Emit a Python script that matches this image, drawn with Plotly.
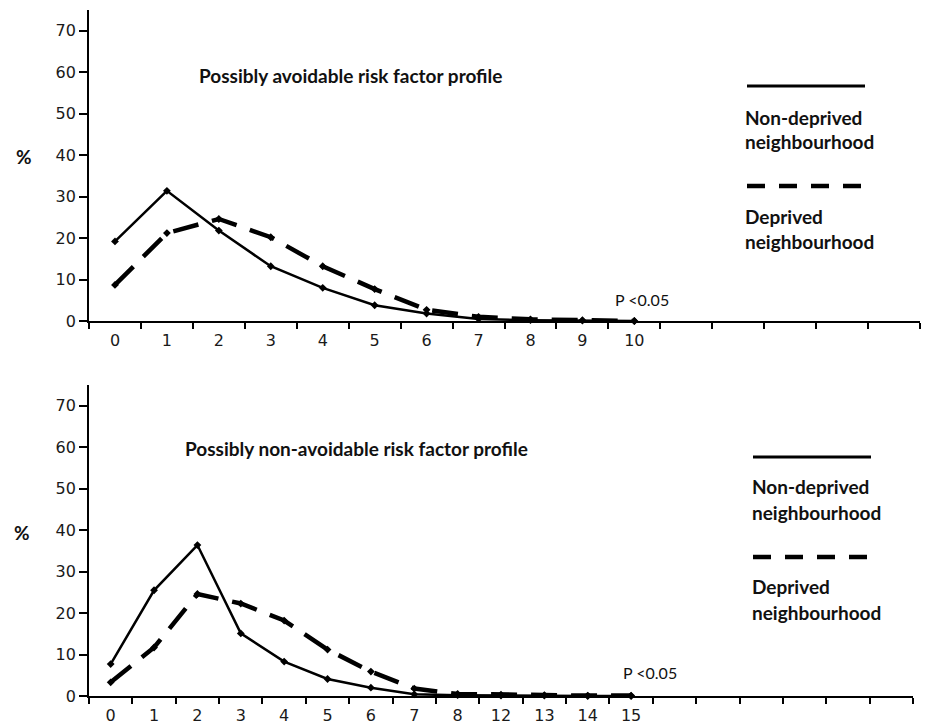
import plotly.graph_objects as go

# ---------------- data ----------------
top_categories = ["0", "1", "2", "3", "4", "5", "6", "7", "8", "9", "10"]
top_non_deprived = [19.2, 31.4, 21.8, 13.2, 8.0, 3.8, 1.8, 0.5, 0.2, 0.1, 0.0]
top_deprived = [8.7, 21.2, 24.6, 20.2, 13.2, 7.7, 2.7, 1.0, 0.4, 0.2, 0.0]
top_slots = 16

bot_categories = ["0", "1", "2", "3", "4", "5", "6", "7", "8", "12", "13", "14", "15"]
bot_non_deprived = [7.7, 25.5, 36.4, 15.1, 8.3, 4.1, 2.0, 0.4, 0.2, 0.1, 0.1, 0.0, 0.0]
bot_deprived = [3.3, 11.7, 24.6, 22.3, 18.2, 11.2, 5.9, 1.8, 0.5, 0.3, 0.2, 0.1, 0.1]
bot_slots = 19

y_ticks = [0, 10, 20, 30, 40, 50, 60, 70]

# the page shows the figure inside the default 8px body margin
OFF = 8
W, H = 935 - 2 * OFF, 724 - OFF


def px(x):
    return (x - OFF) / W


def py(y):
    return 1 - (y - OFF) / H


TICK_FONT = dict(family="DejaVu Sans", size=16, color="#1a1a1a")
BOLD = dict(family="Lato", size=19, color="#111111", weight="bold")

fig = go.Figure()

panels = [
    ("x", "y", top_categories, top_non_deprived, top_deprived),
    ("x2", "y2", bot_categories, bot_non_deprived, bot_deprived),
]
for xa, ya, cats, nd, dp in panels:
    idx = list(range(len(cats)))
    fig.add_trace(go.Scatter(
        x=idx, y=dp, xaxis=xa, yaxis=ya, mode="lines+markers",
        line=dict(color="black", width=4.5, dash="26px,14px"),
        marker=dict(symbol="diamond", size=6, color="black"),
        name="Deprived neighbourhood", showlegend=False, cliponaxis=False))
    fig.add_trace(go.Scatter(
        x=idx, y=nd, xaxis=xa, yaxis=ya, mode="lines+markers",
        line=dict(color="black", width=2.5),
        marker=dict(symbol="diamond", size=6, color="black"),
        name="Non-deprived neighbourhood", showlegend=False, cliponaxis=False))


def xaxis_cfg(cats, slots, domain, anchor):
    return dict(
        domain=domain, anchor=anchor, range=[-0.5, slots - 0.5],
        tickmode="array", tickvals=list(range(len(cats))), ticktext=cats,
        ticks="", showgrid=False, zeroline=False, automargin=False,
        ticklabelstandoff=4,
        showline=True, linecolor="black", linewidth=1.5,
        tickfont=TICK_FONT,
        minor=dict(ticks="outside", ticklen=6, tickwidth=1.5, tickcolor="black",
                   tickmode="linear", tick0=-0.5, dtick=1, showgrid=False),
    )


def yaxis_cfg(domain, anchor):
    return dict(
        domain=domain, anchor=anchor, range=[0, 75],
        tickmode="array", tickvals=y_ticks,
        ticks="outside", ticklen=8, tickwidth=1.5, tickcolor="black",
        showgrid=False, zeroline=False, automargin=False,
        showline=True, linecolor="black", linewidth=1.8,
        tickfont=TICK_FONT,
    )


fig.update_layout(
    width=W, height=H,
    margin=dict(l=0, r=0, t=0, b=0, autoexpand=False),
    paper_bgcolor="white", plot_bgcolor="white",
    showlegend=False,
    xaxis=xaxis_cfg(top_categories, top_slots, [px(89), px(920)], "y"),
    yaxis=yaxis_cfg([py(321), py(10)], "x"),
    xaxis2=xaxis_cfg(bot_categories, bot_slots, [px(89), px(913)], "y2"),
    yaxis2=yaxis_cfg([py(696), py(385)], "x2"),
)

annotations = []


def note(text, x, y, font, xanchor="left"):
    annotations.append(dict(text=text, x=px(x), y=py(y), xref="paper", yref="paper",
                            xanchor=xanchor, yanchor="middle", showarrow=False, font=font))


# titles
note("Possibly avoidable risk factor profile", 197, 76, BOLD)
note("Possibly non-avoidable risk factor profile", 183, 448, BOLD)
# % labels
PCT = dict(family="Lato", size=19, color="#111111", weight="bold")
note("%", 24, 157, PCT, "center")
note("%", 22, 532, PCT, "center")
# p values
PFONT = dict(family="Lato", size=16, color="#111111")
note("P &lt;0.05", 613, 299, PFONT)
note("P &lt;0.05", 621, 672, PFONT)

# legend texts
legends = [
    (743, 117, 141, 216, 241, 747, 865, 86, 186),
    (750, 487, 512, 586, 612, 753, 871, 457, 557),
]
shapes = []
for lx, y1, y2, y3, y4, sx0, sx1, sy_solid, sy_dash in legends:
    note("Non-deprived", lx, y1, BOLD)
    note("neighbourhood", lx, y2, BOLD)
    note("Deprived", lx, y3, BOLD)
    note("neighbourhood", lx, y4, BOLD)
    shapes.append(dict(type="line", xref="paper", yref="paper",
                       x0=px(sx0), x1=px(sx1), y0=py(sy_solid), y1=py(sy_solid),
                       line=dict(color="black", width=3)))
    shapes.append(dict(type="line", xref="paper", yref="paper",
                       x0=px(sx0), x1=px(sx1), y0=py(sy_dash), y1=py(sy_dash),
                       line=dict(color="black", width=4.5, dash="18px,14px")))

fig.update_layout(annotations=annotations, shapes=shapes)

fig.write_html("out.html")
